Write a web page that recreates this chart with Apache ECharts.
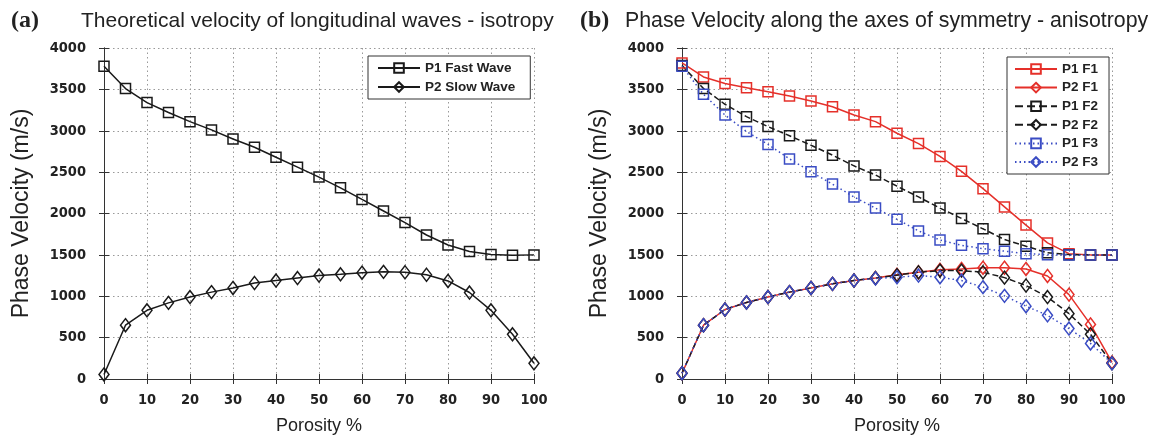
<!DOCTYPE html>
<html>
<head>
<meta charset="utf-8">
<script src="https://cdn.jsdelivr.net/npm/echarts@6/dist/echarts.min.js"></script>
<style>html,body{margin:0;padding:0;background:#fff}#c{width:1149px;height:440px}</style>
</head>
<body>
<div id="c"></div>
<script>
const porosity = [0,5,10,15,20,25,30,35,40,45,50,55,60,65,70,75,80,85,90,95,100];

// (a) isotropy
const p1Fast = [3780,3510,3340,3220,3110,3010,2900,2800,2680,2560,2440,2310,2170,2030,1890,1740,1620,1540,1505,1495,1500];
const p2Slow = [55,650,830,920,990,1050,1100,1160,1190,1220,1250,1265,1285,1295,1290,1260,1185,1045,830,540,190];

// (b) anisotropy
const p1F1 = [3820,3650,3570,3520,3470,3420,3360,3290,3190,3110,2970,2845,2690,2510,2300,2080,1860,1645,1515,1500,1500];
const p2F1 = [70,650,840,925,990,1050,1100,1150,1190,1220,1260,1290,1320,1330,1345,1345,1330,1245,1020,660,200];
const p1F2 = [3790,3510,3320,3170,3050,2940,2825,2705,2575,2465,2330,2200,2065,1940,1815,1685,1605,1525,1503,1500,1500];
const p2F2 = [70,650,840,925,990,1050,1100,1150,1190,1220,1255,1290,1310,1310,1290,1225,1130,990,790,540,190];
const p1F3 = [3780,3440,3190,2990,2835,2660,2505,2355,2200,2065,1930,1790,1680,1615,1575,1545,1515,1503,1500,1500,1500];
const p2F3 = [70,650,840,925,990,1050,1100,1150,1190,1215,1230,1250,1230,1190,1110,1005,880,770,610,430,190];

const xTicks = [0,10,20,30,40,50,60,70,80,90,100];
const yTicks = [0,500,1000,1500,2000,2500,3000,3500,4000];

const zip = arr => porosity.map((p,i)=>[p,arr[i]]);

const RED = '#e5302a', BLUE = '#3a4cc4', BLACK = '#1a1a1a';
const tickFont = {fontFamily:'Liberation Sans Narrow, DejaVu Sans Condensed, Arial Narrow, sans-serif', fontWeight:'bold', fontSize:14.5, color:'#222'};

function xAx(gi){
  return [{
    gridIndex:gi, type:'value', min:xTicks[0], max:xTicks[xTicks.length-1], interval:10,
    name:'Porosity %', nameLocation:'middle', nameGap:38,
    nameTextStyle:{fontFamily:'Liberation Sans, Arial, sans-serif', fontSize:18, color:'#222'},
    axisLine:{show:true, onZero:false, lineStyle:{color:'#333', width:1}},
    axisTick:{show:true, inside:true, length:5, lineStyle:{color:'#333'}},
    axisLabel:Object.assign({margin:14, formatter:v=>String(v)}, tickFont),
    splitLine:{show:true, lineStyle:{type:[1.5,3], color:'#999', width:1}}
  },{
    gridIndex:gi, type:'value', position:'top', min:0, max:100, interval:10,
    axisLine:{show:true, lineStyle:{color:'#333', width:1}},
    axisTick:{show:true, inside:true, length:5, lineStyle:{color:'#333'}},
    axisLabel:{show:false}, splitLine:{show:false}
  }];
}
function yAx(gi){
  return [{
    gridIndex:gi, type:'value', min:yTicks[0], max:yTicks[yTicks.length-1], interval:500,
    name:'Phase Velocity (m/s)', nameLocation:'middle', nameGap:71,
    nameTextStyle:{fontFamily:'Liberation Sans, Arial, sans-serif', fontSize:23, color:'#222'},
    axisLine:{show:true, onZero:false, lineStyle:{color:'#333', width:1}},
    axisTick:{show:true, inside:true, length:5, lineStyle:{color:'#333'}},
    axisLabel:Object.assign({margin:18, formatter:v=>String(v)}, tickFont),
    splitLine:{show:true, lineStyle:{type:[1.5,3], color:'#999', width:1}}
  },{
    gridIndex:gi, type:'value', position:'right', min:0, max:4000, interval:500,
    axisLine:{show:true, lineStyle:{color:'#333', width:1}},
    axisTick:{show:true, inside:true, length:5, lineStyle:{color:'#333'}},
    axisLabel:{show:false}, splitLine:{show:false}
  }];
}

function ser(name, data, color, symbol, lineType, xi, yi, size){
  return {
    name, type:'line', data:zip(data), xAxisIndex:xi, yAxisIndex:yi,
    symbol, symbolSize:size, showAllSymbol:true,
    lineStyle:{color, width:1.5, type:lineType},
    itemStyle:{color:'rgba(255,255,255,0)', borderColor:color, borderWidth:1.5},
    emphasis:{disabled:true}, animation:false
  };
}

const chart = echarts.init(document.getElementById('c'), null, {renderer:'canvas'});
chart.setOption({
  backgroundColor:'#fff',
  animation:false,
  title:[
    {text:'(a)', left:6, top:4, textStyle:{fontFamily:'Liberation Serif, Times New Roman, serif', fontWeight:'bold', fontSize:24, color:'#222'}},
    {text:'Theoretical velocity of longitudinal waves - isotropy', left:76, top:6, textStyle:{fontFamily:'Liberation Sans, Arial, sans-serif', fontWeight:'normal', fontSize:21, color:'#222'}},
    {text:'(b)', left:575, top:4, textStyle:{fontFamily:'Liberation Serif, Times New Roman, serif', fontWeight:'bold', fontSize:24, color:'#222'}},
    {text:'Phase Velocity along the axes of symmetry - anisotropy', left:620, top:6, textStyle:{fontFamily:'Liberation Sans, Arial, sans-serif', fontWeight:'normal', fontSize:21.3, color:'#222'}}
  ],
  grid:[
    {left:104, width:430, top:48, height:345},
    {left:682, width:430, top:48, height:345}
  ],
  xAxis:[...xAx(0), ...xAx(1)],
  yAxis:[...yAx(0), ...yAx(1)],
  legend:[
    {data:['P1 Fast Wave','P2 Slow Wave'], orient:'vertical', left:368, top:56,
     padding:[5,15,5,9], itemGap:5, itemWidth:42, itemHeight:12,
     borderColor:'#333', borderWidth:1, backgroundColor:'#fff',
     textStyle:{fontFamily:'Liberation Sans, Arial, sans-serif', fontWeight:'bold', fontSize:13.5, color:'#222'}},
    {data:['P1 F1','P2 F1','P1 F2','P2 F2','P1 F3','P2 F3'], orient:'vertical', left:1007, top:57,
     padding:[5,11,5,7], itemGap:4.6, itemWidth:42, itemHeight:12,
     borderColor:'#333', borderWidth:1, backgroundColor:'#fff',
     textStyle:{fontFamily:'Liberation Sans, Arial, sans-serif', fontWeight:'bold', fontSize:13.5, color:'#222'}}
  ],
  series:[
    ser('P1 Fast Wave', p1Fast, BLACK, 'rect', 'solid', 0, 0, 10),
    ser('P2 Slow Wave', p2Slow, BLACK, 'diamond', 'solid', 0, 0, [10,13]),
    ser('P1 F1', p1F1, RED, 'rect', 'solid', 2, 2, 10),
    ser('P2 F1', p2F1, RED, 'diamond', 'solid', 2, 2, [10,13]),
    ser('P1 F2', p1F2, BLACK, 'rect', 'dashed', 2, 2, 10),
    ser('P2 F2', p2F2, BLACK, 'diamond', 'dashed', 2, 2, [10,13]),
    ser('P1 F3', p1F3, BLUE, 'rect', [1.5,3], 2, 2, 10),
    ser('P2 F3', p2F3, BLUE, 'diamond', [1.5,3], 2, 2, [10,13])
  ]
});
</script>
</body>
</html>
